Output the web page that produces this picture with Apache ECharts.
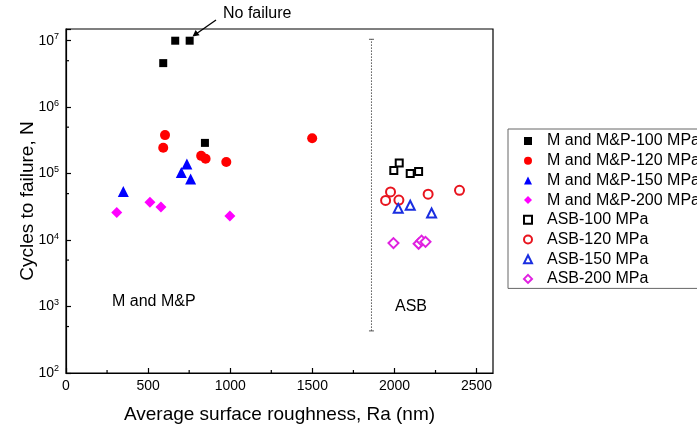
<!DOCTYPE html>
<html>
<head>
<meta charset="utf-8">
<script src="https://cdn.jsdelivr.net/npm/echarts@6/dist/echarts.min.js"></script>
<style>html,body{margin:0;padding:0;background:#fff}#c{width:697px;height:430px}</style>
</head>
<body>
<div id="c"></div>
<script>
// ---- data (Ra in nm, cycles to failure N) ----
var m100_x = [592, 665, 753, 846];
var m100_y = [4.6e6, 1e7, 1e7, 2.9e5];
var m120_x = [603, 592, 823, 850, 976, 1499];
var m120_y = [3.8e5, 2.45e5, 1.85e5, 1.67e5, 1.5e5, 3.4e5];
var m150_x = [349, 702, 736, 759];
var m150_y = [5.4e4, 1.04e5, 1.4e5, 8.3e4];
var m200_x = [309, 511, 578, 998];
var m200_y = [2.6e4, 3.7e4, 3.15e4, 2.3e4];
var asb100_x = [1996, 2029, 2096, 2147];
var asb100_y = [1.11e5, 1.44e5, 1.0e5, 1.08e5];
var asb120_x = [1946, 1976, 2027, 2205, 2396];
var asb120_y = [3.95e4, 5.3e4, 4.0e4, 4.9e4, 5.6e4];
var asb150_x = [2023, 2096, 2226];
var asb150_y = [3.0e4, 3.35e4, 2.55e4];
var asb200_x = [1994, 2147, 2165, 2189];
var asb200_y = [9.0e3, 8.8e3, 9.8e3, 9.4e3];

var seriesNames = ['M and M&P-100 MPa', 'M and M&P-120 MPa', 'M and M&P-150 MPa', 'M and M&P-200 MPa',
                   'ASB-100 MPa', 'ASB-120 MPa', 'ASB-150 MPa', 'ASB-200 MPa'];

var dividerX = [1860];
var dividerLow = [430];
var dividerHigh = [1.05e7];

var xTicks = [0, 500, 1000, 1500, 2000, 2500];
var xMinorTicks = [250, 750, 1250, 1750, 2250];
var yMinorTicks = [500, 5000, 50000, 500000, 5000000];

function pairs(xs, ys) { return xs.map(function (x, i) { return [x, ys[i]]; }); }

var FONT = '"Liberation Sans", Arial, sans-serif';

function sc(name, xs, ys, symbol, size, color) {
  return {
    name: name, type: 'scatter', data: pairs(xs, ys),
    symbol: symbol, symbolSize: size,
    itemStyle: { color: color, borderColor: color, borderWidth: symbol.indexOf('empty') === 0 ? 1.2 : 0, opacity: 1 },
    emphasis: { disabled: true }, z: 3
  };
}

var chart = echarts.init(document.getElementById('c'), null, { renderer: 'canvas' });

var option = {
  backgroundColor: '#fff',
  animation: false,
  textStyle: { fontFamily: FONT },
  grid: { left: 66, right: 204, top: 29, bottom: 57, show: true, borderColor: '#000', borderWidth: 1.2, backgroundColor: 'transparent' },
  xAxis: {
    type: 'value', min: 0, max: 2600, interval: 500,
    name: 'Average surface roughness, Ra (nm)', nameLocation: 'middle', nameGap: 32,
    nameTextStyle: { fontSize: 19, color: '#000', fontFamily: FONT },
    axisLine: { show: true, lineStyle: { color: '#000', width: 1.2 } },
    axisTick: { show: true, inside: true, length: 5, lineStyle: { color: '#000', width: 1.2 },
      customValues: xTicks },
    axisLabel: { fontSize: 14, color: '#000', margin: 6, fontFamily: FONT,
      customValues: xTicks,
      formatter: function (v) { return (v % 500 === 0) ? String(v) : ''; } },
    splitLine: { show: false }
  },
  yAxis: {
    type: 'log', logBase: 10, min: 100, max: 1.5e7,
    name: 'Cycles to failure, N', nameLocation: 'middle', nameGap: 28.5, nameRotate: 90,
    nameMoveOverlap: false,
    nameTextStyle: { fontSize: 19, color: '#000', fontFamily: FONT },
    axisLine: { show: true, lineStyle: { color: '#000', width: 1.2 } },
    axisTick: { show: true, inside: true, length: 5, lineStyle: { color: '#000', width: 1.2 } },
    axisLabel: {
      color: '#000', margin: 7, fontFamily: FONT,
      formatter: function (v) {
        var e = Math.log10(v); var r = Math.round(e);
        if (Math.abs(e - r) > 1e-6) return '';
        return '{b|10}{s|' + r + '}';
      },
      rich: {
        b: { fontSize: 14, color: '#000', fontFamily: FONT },
        s: { fontSize: 9, color: '#000', fontFamily: FONT, padding: [0, 0, 8, 0] }
      }
    },
    splitLine: { show: false }
  },
  legend: {
    orient: 'vertical', left: 508, top: 129,
    data: seriesNames,
    itemWidth: 8, itemHeight: 8, itemGap: 3.7,
    symbolKeepAspect: true,
    padding: [4, 10, 1.5, 15],
    borderColor: '#666', borderWidth: 1,
    textStyle: { fontSize: 16, color: '#000', fontFamily: FONT, lineHeight: 16, padding: [0, 0, 0, 10] },
    selectedMode: false
  },
  graphic: [
    { type: 'text', left: 112, top: 294, style: { text: 'M and M&P', fontSize: 16, fill: '#000', font: '16px ' + FONT } },
    { type: 'text', left: 395, top: 299, style: { text: 'ASB', fontSize: 16, fill: '#000', font: '16px ' + FONT } },
    { type: 'text', left: 223, top: 6, style: { text: 'No failure', fontSize: 16, fill: '#000', font: '16px ' + FONT } },
    { type: 'polyline', shape: { points: [[216, 20], [196, 34]] }, style: { stroke: '#000', lineWidth: 1.3 } },
    { type: 'polygon', shape: { points: [[192.5, 36.5], [199.6, 35.3], [195.6, 29.9]] }, style: { fill: '#000' } }
  ],
  series: [
    sc(seriesNames[0], m100_x, m100_y, 'rect', 8, '#000000'),
    sc(seriesNames[1], m120_x, m120_y, 'circle', 10, '#ff0000'),
    sc(seriesNames[2], m150_x, m150_y, 'triangle', 11, '#0000ff'),
    sc(seriesNames[3], m200_x, m200_y, 'diamond', 11, '#ff00ff'),
    sc(seriesNames[4], asb100_x, asb100_y, 'emptyRect', 7, '#000000'),
    sc(seriesNames[5], asb120_x, asb120_y, 'emptyCircle', 9, '#e8141e'),
    sc(seriesNames[6], asb150_x, asb150_y, 'emptyTriangle', 9, '#1a2ee0'),
    sc(seriesNames[7], asb200_x, asb200_y, 'emptyDiamond', 10, '#e020e0'),
    {
      name: 'divider', type: 'custom', silent: true, z: 2,
      data: dividerX.map(function (x, i) { return [x, dividerLow[i], dividerHigh[i]]; }),
      renderItem: function (params, api) {
        var a = api.coord([api.value(0), api.value(1)]);
        var b = api.coord([api.value(0), api.value(2)]);
        var st = { stroke: '#555', lineWidth: 1 };
        return { type: 'group', children: [
          { type: 'line', shape: { x1: a[0], y1: a[1], x2: b[0], y2: b[1] }, style: { stroke: '#555', lineWidth: 1, lineDash: [1.5, 1.5] } },
          { type: 'line', shape: { x1: a[0] - 2.5, y1: a[1], x2: a[0] + 2.5, y2: a[1] }, style: st },
          { type: 'line', shape: { x1: b[0] - 2.5, y1: b[1], x2: b[0] + 2.5, y2: b[1] }, style: st }
        ] };
      }
    },
    {
      name: 'xminor', type: 'custom', silent: true, z: 4,
      data: xMinorTicks.map(function (v) { return [v, 100]; }),
      renderItem: function (params, api) {
        var p = api.coord([api.value(0), api.value(1)]);
        return { type: 'line', shape: { x1: p[0], y1: p[1], x2: p[0], y2: p[1] - 3 }, style: { stroke: '#000', lineWidth: 1.2 } };
      }
    },
    {
      name: 'yminor', type: 'custom', silent: true, z: 4,
      data: yMinorTicks.map(function (v) { return [0, v]; }),
      renderItem: function (params, api) {
        var p = api.coord([api.value(0), api.value(1)]);
        return { type: 'line', shape: { x1: p[0], y1: p[1], x2: p[0] + 3, y2: p[1] }, style: { stroke: '#000', lineWidth: 1.2 } };
      }
    }
  ]
};
chart.setOption(option);
</script>
</body>
</html>
